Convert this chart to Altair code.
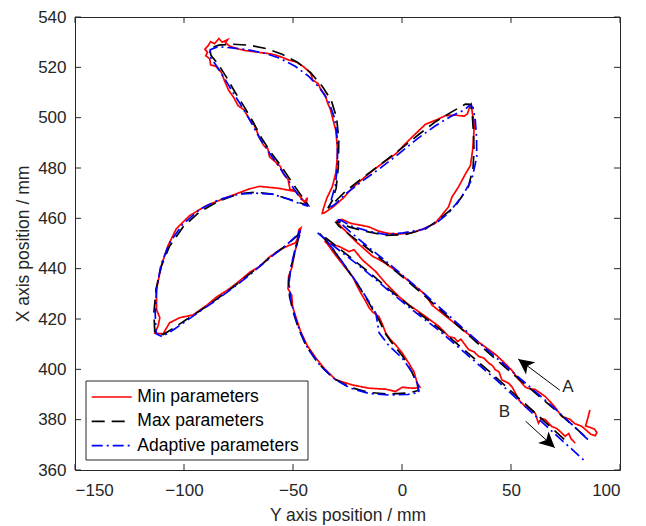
import math
import altair as alt
import pandas as pd

# ---- series definitions ---------------------------------------------------
SERIES = ["Min parameters", "Max parameters", "Adaptive parameters"]
COLORS = ["#ff0000", "#000000", "#0000ff"]
DASHES = [[1, 0], [13, 7], [11, 4, 2, 4]]

X_TICKS = [-150, -100, -50, 0, 50, 100]
Y_TICKS = [360, 380, 400, 420, 440, 460, 480, 500, 520, 540]

# Trajectories as (Y axis position, X axis position) in mm, in travel order.
MAX_PATH = [
    (83.8, 373.5), (69.9, 384.2), (51.6, 397.6), (37.9, 407.9), (24.2, 418.5),
    (9.1, 430.2), (-6.0, 441.3), (-16.6, 448.6), (-24.3, 453.6), (-29.0, 457.0),
    (-30.3, 458.4),
    (-28.5, 458.6), (-24.3, 456.6), (-16.6, 454.8), (-7.5, 453.2), (1.7, 453.6),
    (10.8, 455.8), (16.7, 459.4), (24.3, 464.7), (30.5, 472.6), (32.6, 480.0),
    (33.0, 487.0), (32.8, 494.0), (32.3, 500.4), (31.6, 505.3),
    (29.1, 505.4), (23.0, 502.4), (15.4, 498.4), (7.8, 493.4), (-1.4, 487.0),
    (-10.5, 481.0), (-18.2, 476.0), (-25.8, 470.8), (-31.5, 466.0), (-34.0, 464.0),
    (-32.0, 467.0), (-30.2, 472.0), (-29.2, 480.6), (-29.0, 491.2), (-30.0, 500.0),
    (-32.5, 507.0), (-36.6, 512.5), (-42.0, 518.0), (-48.0, 522.0), (-55.0, 525.2),
    (-62.0, 527.4), (-70.0, 528.8), (-78.0, 529.2), (-84.0, 528.8), (-88.5, 527.5),
    (-87.5, 524.6), (-84.5, 521.5), (-80.5, 516.0), (-76.5, 510.0), (-72.5, 504.5),
    (-68.5, 498.6), (-64.5, 492.0), (-60.0, 486.0), (-55.5, 480.8), (-51.0, 475.0),
    (-47.0, 470.0), (-44.0, 466.5), (-43.0, 465.2),
    (-47.0, 466.2), (-51.7, 467.6), (-59.3, 469.6), (-66.9, 470.4), (-74.6, 469.8),
    (-83.7, 467.0), (-92.8, 462.6), (-100.5, 456.5), (-106.6, 449.0), (-110.4, 441.0),
    (-112.8, 432.0), (-113.8, 422.5), (-113.4, 414.5),
    (-109.6, 413.8), (-105.0, 416.2), (-98.9, 419.8), (-92.8, 423.2), (-85.2, 427.8),
    (-77.6, 432.6), (-70.0, 437.8), (-63.9, 442.0), (-59.3, 445.4), (-53.2, 449.2),
    (-48.6, 452.6), (-46.2, 455.2),
    (-47.5, 452.0), (-49.0, 447.0), (-50.8, 441.0), (-52.0, 435.0), (-51.6, 429.0),
    (-50.0, 423.0), (-47.6, 416.5), (-44.1, 409.5), (-38.5, 402.5), (-32.0, 396.8),
    (-24.3, 393.0), (-15.1, 390.8), (-6.0, 390.2), (3.0, 390.6), (7.6, 391.6),
    (7.0, 394.0), (4.7, 398.6), (0.5, 405.0), (-4.5, 410.4), (-7.5, 414.0),
    (-10.6, 419.7), (-15.1, 426.3), (-19.7, 432.9), (-25.8, 440.6), (-31.5, 447.5),
    (-35.5, 451.8), (-37.8, 454.0),
    (-35.7, 452.7), (-27.3, 447.0), (-21.5, 443.0), (-13.0, 437.0), (-6.0, 431.8),
    (4.5, 424.5), (16.9, 416.3), (28.8, 407.5), (42.5, 397.3), (54.8, 387.6),
    (67.2, 377.8), (76.2, 370.8),
]

ADAPT_PATH = [
    (85.3, 372.1), (70.0, 384.5), (52.0, 398.0), (38.0, 408.6), (24.0, 419.4),
    (9.0, 431.0), (-6.0, 442.0), (-16.6, 449.4), (-24.0, 454.8), (-28.8, 458.6),
    (-30.2, 459.6),
    (-28.0, 459.2), (-23.5, 457.0), (-16.6, 455.2), (-8.0, 453.6), (0.5, 454.2),
    (9.5, 455.6), (16.0, 458.4), (21.3, 462.0), (27.4, 468.6), (32.0, 475.3),
    (34.3, 484.5), (34.2, 492.0), (33.6, 499.0), (32.6, 504.0), (31.2, 505.0),
    (28.5, 503.0), (22.5, 500.6), (15.0, 496.6), (7.0, 491.6), (-1.5, 485.6),
    (-10.5, 479.6), (-18.2, 474.8), (-25.8, 469.8), (-31.0, 465.4), (-33.5, 464.0),
    (-32.4, 467.5), (-30.6, 473.0), (-29.6, 481.0), (-29.6, 491.0), (-30.8, 499.4),
    (-33.4, 506.0), (-37.5, 511.6), (-43.0, 516.6), (-49.0, 520.4), (-56.0, 523.6),
    (-63.0, 525.6), (-71.0, 527.0), (-79.0, 527.8), (-84.5, 528.2), (-88.0, 527.0),
    (-87.6, 523.6), (-84.8, 520.2), (-81.0, 515.0), (-77.0, 509.2), (-73.0, 503.8),
    (-69.0, 497.8), (-65.0, 491.4), (-60.5, 485.6), (-56.0, 480.0), (-51.5, 474.2),
    (-47.6, 469.2), (-44.6, 466.0), (-43.0, 464.8),
    (-47.0, 465.8), (-52.0, 467.6), (-59.5, 469.6), (-67.0, 470.0), (-75.0, 469.6),
    (-84.0, 467.4), (-93.0, 463.4), (-100.8, 457.4), (-106.8, 450.0), (-110.6, 441.4),
    (-112.6, 432.0), (-113.2, 422.0), (-112.8, 414.2),
    (-110.0, 413.0), (-105.0, 415.6), (-99.0, 419.2), (-92.8, 423.0), (-85.0, 427.6),
    (-77.5, 432.4), (-70.0, 437.4), (-64.0, 441.8), (-59.0, 445.4), (-53.5, 449.0),
    (-49.0, 452.6), (-46.4, 455.8),
    (-47.8, 452.0), (-49.4, 446.5), (-51.0, 440.5), (-51.8, 434.5), (-51.2, 428.5),
    (-49.6, 422.5), (-47.2, 416.0), (-43.6, 409.0), (-38.0, 402.0), (-31.5, 396.5),
    (-24.0, 392.6), (-15.0, 390.4), (-6.0, 389.8), (2.5, 390.0), (7.8, 390.8),
    (7.2, 394.0), (4.5, 399.0), (0.1, 404.5), (-6.0, 409.4), (-10.5, 414.5),
    (-12.0, 422.3), (-15.6, 427.5), (-20.0, 433.5), (-26.0, 441.0), (-31.6, 447.8),
    (-36.0, 452.4), (-38.7, 454.2),
    (-36.0, 452.2), (-27.5, 446.4), (-21.5, 442.4), (-13.0, 436.4), (-6.0, 431.2),
    (4.5, 423.8), (16.9, 415.5), (28.8, 406.6), (42.5, 396.4), (54.8, 386.6),
    (67.2, 376.6), (76.2, 369.6), (83.8, 363.6),
]

MIN_PATH = [
    (86.2, 383.9), (85.2, 380.5), (84.2, 377.5), (86.0, 377.0), (88.4, 376.2),
    (89.4, 374.8), (88.6, 373.6), (86.6, 374.2), (84.8, 375.6), (82.4, 377.4),
    (79.3, 378.4), (77.0, 380.2), (73.3, 381.2), (70.2, 385.0), (67.0, 388.0),
    (65.7, 389.2), (61.1, 392.0), (58.0, 392.4), (56.5, 393.0), (53.5, 396.0),
    (50.4, 399.6), (46.5, 403.0), (42.8, 406.0), (38.0, 409.0), (33.0, 412.2),
    (27.5, 416.0), (20.0, 421.2), (13.8, 425.5), (10.8, 429.6), (3.2, 435.0),
    (-2.9, 439.3), (-8.5, 442.6), (-13.6, 445.0), (-18.0, 448.4), (-21.2, 450.8),
    (-25.0, 454.2), (-28.1, 456.8), (-29.8, 459.0),
    (-27.5, 459.6), (-23.5, 458.0), (-19.7, 457.4), (-15.1, 456.6), (-11.0, 455.0),
    (-6.5, 454.0), (-1.0, 453.8), (4.0, 454.2), (9.0, 455.5), (15.2, 458.0),
    (18.4, 461.4), (21.3, 464.5), (23.0, 468.6), (26.0, 472.6), (29.0, 477.5),
    (31.4, 481.0), (32.4, 487.2), (32.9, 493.0), (33.2, 497.8), (32.3, 501.5),
    (31.8, 505.2), (30.8, 503.6), (30.0, 501.5), (28.5, 500.6), (24.5, 501.0),
    (19.9, 500.8), (16.0, 499.2), (10.8, 497.4), (6.2, 493.6), (1.5, 489.6),
    (-2.9, 485.6), (-8.0, 482.5), (-12.5, 479.6), (-15.1, 477.8), (-19.5, 474.6),
    (-22.8, 472.0), (-27.0, 468.0), (-31.5, 464.6), (-35.5, 462.2), (-36.6, 462.0),
    (-36.0, 464.0), (-34.5, 468.0), (-32.0, 472.5), (-30.4, 477.9), (-29.8, 483.0),
    (-29.6, 487.2), (-30.0, 491.5), (-30.4, 495.1), (-31.6, 499.0), (-32.8, 503.2),
    (-34.2, 506.0), (-35.2, 509.0), (-37.2, 511.0), (-38.4, 513.5), (-41.0, 515.0),
    (-41.8, 517.5), (-43.5, 519.0), (-46.0, 520.8), (-48.6, 522.2), (-51.7, 522.8),
    (-55.0, 524.0), (-58.5, 525.0), (-61.5, 525.5), (-66.0, 526.0), (-71.5, 526.6),
    (-75.5, 527.4), (-79.0, 528.4), (-81.0, 529.8), (-80.0, 531.0), (-82.5, 530.0),
    (-84.0, 531.4), (-86.0, 529.4), (-87.8, 530.2), (-89.0, 528.5), (-90.4, 527.2),
    (-89.2, 526.0), (-90.0, 524.6), (-88.2, 523.4), (-87.8, 521.0), (-85.4, 520.4),
    (-83.0, 518.2), (-81.4, 514.6), (-79.6, 511.0), (-77.2, 508.0), (-75.2, 504.8),
    (-72.6, 503.2), (-70.0, 499.5), (-68.0, 497.5), (-65.6, 492.5), (-63.5, 489.0),
    (-61.5, 487.6), (-60.8, 484.5), (-58.3, 482.6), (-55.8, 480.6), (-54.4, 477.6),
    (-52.3, 475.6), (-51.4, 471.6), (-49.0, 471.0), (-47.2, 469.0), (-44.6, 466.6),
    (-43.4, 468.2), (-44.0, 465.6),
    (-45.6, 467.3), (-48.6, 470.6), (-56.3, 471.9), (-65.4, 472.7), (-70.0, 471.7),
    (-76.1, 469.7), (-82.2, 467.7), (-89.8, 465.0), (-97.4, 461.1), (-103.5, 455.9),
    (-107.3, 449.2), (-110.4, 441.2), (-112.6, 431.8), (-112.6, 423.8), (-111.1, 420.5),
    (-111.9, 417.2), (-113.4, 414.4), (-109.6, 414.1), (-106.6, 418.5), (-102.0, 420.5),
    (-95.9, 421.6), (-89.5, 425.5), (-85.0, 428.8), (-80.0, 431.5), (-75.0, 434.8),
    (-69.5, 438.8), (-65.0, 441.0), (-61.0, 444.5), (-56.5, 447.2), (-52.5, 449.0),
    (-49.0, 450.2), (-47.5, 452.5), (-46.4, 456.2),
    (-47.3, 455.5), (-48.2, 450.0), (-49.5, 445.0), (-50.5, 440.5), (-52.0, 437.0),
    (-52.3, 432.0), (-50.6, 429.5), (-50.2, 425.0), (-48.2, 419.5), (-46.5, 415.0),
    (-43.5, 409.5), (-39.5, 404.5), (-35.5, 400.2), (-30.3, 395.8), (-22.8, 393.8),
    (-15.1, 392.5), (-7.5, 392.1), (-3.0, 391.2), (0.1, 392.9), (3.5, 392.6),
    (6.2, 392.5), (8.2, 393.0),
    (7.0, 394.5), (5.5, 399.0), (3.0, 402.6), (0.0, 406.6), (-3.0, 409.8),
    (-5.5, 412.0), (-7.5, 414.5), (-8.8, 417.5), (-10.6, 421.0), (-13.5, 422.8),
    (-15.1, 424.5), (-17.0, 427.6), (-19.0, 430.5), (-20.8, 433.5), (-22.8, 437.0),
    (-25.8, 440.2), (-28.8, 443.5), (-31.5, 446.5), (-34.2, 449.8), (-35.5, 451.0),
    (-34.2, 450.1), (-28.8, 448.8), (-24.3, 446.8), (-22.0, 447.5), (-18.2, 443.5),
    (-12.1, 438.9), (-7.5, 434.2), (-1.4, 428.9), (3.2, 425.6), (10.8, 421.0),
    (16.9, 417.1), (21.5, 413.0), (24.0, 412.5), (25.5, 411.0), (27.0, 412.0),
    (30.6, 407.8), (33.0, 407.0), (35.2, 405.1), (37.5, 404.5), (39.8, 402.5),
    (41.5, 401.5), (42.8, 399.8), (44.5, 399.0), (45.8, 395.8), (48.9, 394.5),
    (50.5, 393.0), (52.0, 390.6), (53.5, 387.9), (56.5, 385.2), (59.0, 384.2),
    (61.1, 382.6), (62.6, 378.6), (64.0, 380.5), (65.7, 380.0), (68.7, 377.3),
    (71.0, 376.5), (73.3, 374.7), (74.8, 373.4), (76.5, 374.5), (77.5, 372.5),
    (79.4, 370.7),
]

# Direction annotations: label, arrow tail, arrow tip, label anchor (data units)
ARROW_LABELS = ["A", "B"]
ARROW_TAILS = [(72.4, 391.7), (56.7, 379.4)]
ARROW_TIPS = [(53.3, 404.1), (70.1, 368.8)]
LABEL_POS = [(76.1, 392.9), (47.0, 382.9)]

# ---- layout ---------------------------------------------------------------
W, H = 545, 453
X_DOM = [-150, 100]
Y_DOM = [360, 540]
FONT = "Liberation Sans"
INK = "#262626"
LW = 1.7

x_scale = alt.Scale(domain=X_DOM, nice=False, zero=False)
y_scale = alt.Scale(domain=Y_DOM, nice=False, zero=False)
x_axis = alt.Axis(values=X_TICKS, title="Y axis position / mm", grid=False,
                  ticks=False, tickSize=0, domain=False, labelPadding=12,
                  titlePadding=8)
y_axis = alt.Axis(values=Y_TICKS, title="X axis position / mm", grid=False,
                  ticks=False, tickSize=0, domain=False, labelPadding=9,
                  titlePadding=5)


def path_frame(path):
    return pd.DataFrame({
        "idx": list(range(len(path))),
        "ypos": [p[0] for p in path],
        "xpos": [p[1] for p in path],
    })


paths = [MIN_PATH, MAX_PATH, ADAPT_PATH]
line_layers = []
for i, (name, path) in enumerate(zip(SERIES, paths)):
    layer = alt.Chart(path_frame(path)).mark_line(
        color=COLORS[i], strokeDash=DASHES[i], strokeWidth=LW, clip=True
    ).encode(
        x=alt.X("ypos:Q", scale=x_scale, axis=x_axis),
        y=alt.Y("xpos:Q", scale=y_scale, axis=y_axis),
        order=alt.Order("idx:Q"),
    )
    line_layers.append(layer)

# arrows
px_per_x = W / (X_DOM[1] - X_DOM[0])
px_per_y = H / (Y_DOM[1] - Y_DOM[0])
angles = []
for (tx, ty), (hx, hy) in zip(ARROW_TAILS, ARROW_TIPS):
    dx = (hx - tx) * px_per_x
    dy = -(hy - ty) * px_per_y
    angles.append(math.degrees(math.atan2(dx, -dy)) % 360)

arrow_df = pd.DataFrame({
    "label": ARROW_LABELS,
    "ypos": [t[0] for t in ARROW_TAILS],
    "xpos": [t[1] for t in ARROW_TAILS],
    "ypos2": [t[0] for t in ARROW_TIPS],
    "xpos2": [t[1] for t in ARROW_TIPS],
    "angle": angles,
})
label_df = pd.DataFrame({
    "label": ARROW_LABELS,
    "ypos": [p[0] for p in LABEL_POS],
    "xpos": [p[1] for p in LABEL_POS],
})

shafts = alt.Chart(arrow_df).mark_rule(color="black", strokeWidth=1).encode(
    x="ypos:Q", y="xpos:Q", x2="ypos2:Q", y2="xpos2:Q"
)
heads = alt.Chart(arrow_df).mark_point(
    shape="M0,0 L0.9,1.8 L0,1.35 L-0.9,1.8 Z", filled=True, size=300,
    color="black", opacity=1, strokeWidth=0
).encode(
    x="ypos2:Q", y="xpos2:Q", angle=alt.Angle("angle:Q", scale=None)
)
labels = alt.Chart(label_df).mark_text(
    font=FONT, fontSize=17, color=INK, align="center", baseline="middle"
).encode(x="ypos:Q", y="xpos:Q", text="label:N")

# inward tick marks on all four sides
xt = pd.DataFrame({"ypos": X_TICKS})
yt = pd.DataFrame({"xpos": Y_TICKS})
TICK = 6
tick_layers = [
    alt.Chart(xt).mark_rule(color=INK, strokeWidth=1).encode(
        x="ypos:Q", y=alt.value(H), y2=alt.value(H - TICK)),
    alt.Chart(xt).mark_rule(color=INK, strokeWidth=1).encode(
        x="ypos:Q", y=alt.value(0), y2=alt.value(TICK)),
    alt.Chart(yt).mark_rule(color=INK, strokeWidth=1).encode(
        y="xpos:Q", x=alt.value(0), x2=alt.value(TICK)),
    alt.Chart(yt).mark_rule(color=INK, strokeWidth=1).encode(
        y="xpos:Q", x=alt.value(W), x2=alt.value(W - TICK)),
]

# legend box in the lower-left corner
LEG_L, LEG_R, LEG_T, LEG_B = 11, 233, 364, 443
ROW_Y = [380, 404.3, 428.7]
legend_layers = [
    alt.Chart(pd.DataFrame({"k": [0]})).mark_rect(
        fill="white", stroke=INK, strokeWidth=1
    ).encode(x=alt.value(LEG_L), x2=alt.value(LEG_R),
             y=alt.value(LEG_T), y2=alt.value(LEG_B))
]
for i, name in enumerate(SERIES):
    d = pd.DataFrame({"label": [name]})
    legend_layers.append(
        alt.Chart(d).mark_rule(color=COLORS[i], strokeDash=DASHES[i],
                               strokeWidth=LW).encode(
            x=alt.value(16.7), x2=alt.value(56.7), y=alt.value(ROW_Y[i]))
    )
    legend_layers.append(
        alt.Chart(d).mark_text(font=FONT, fontSize=17.5, color="black",
                               align="left", baseline="middle").encode(
            x=alt.value(62.3), y=alt.value(ROW_Y[i]), text="label:N")
    )

chart = alt.layer(
    *line_layers, shafts, heads, labels, *tick_layers, *legend_layers
).properties(
    width=W, height=H,
    padding={"left": 75, "top": 17, "right": 26, "bottom": 56},
    autosize=alt.AutoSizeParams(type="none"),
    background="white",
).configure_view(
    stroke=INK, strokeWidth=1
).configure_axis(
    labelFont=FONT, labelFontSize=17, labelColor=INK,
    titleFont=FONT, titleFontSize=17.5, titleColor=INK,
    titleFontWeight="normal",
)

chart.save("out.html", embed_options={"renderer": "svg", "actions": False})
